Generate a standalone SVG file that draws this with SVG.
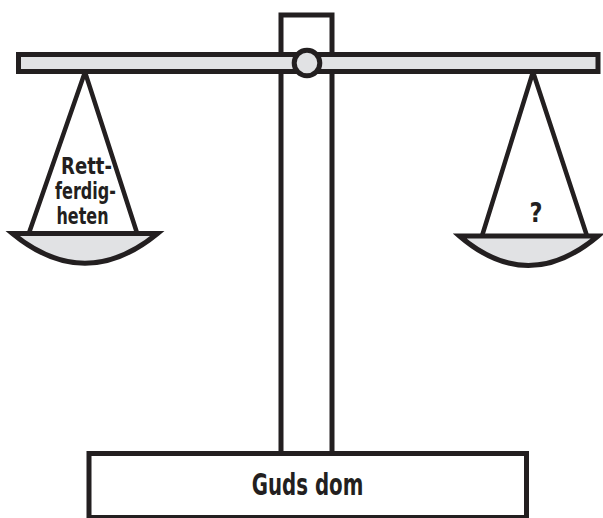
<svg xmlns="http://www.w3.org/2000/svg" width="603" height="518" viewBox="0 0 603 518">
<style>
.ln{fill:none;stroke:#231f20;stroke-width:4.5;stroke-linejoin:miter}
.gr{fill:#e1e2e4;stroke:#231f20;stroke-width:5}
.wh{fill:#ffffff;stroke:#231f20;stroke-width:5}
.t{font-family:"DejaVu Sans","Liberation Sans",Arial,sans-serif;font-weight:bold;fill:#231f20}
</style>
<rect width="603" height="518" fill="#ffffff"/>
<g id="pillar"><rect class="wh" x="281" y="15" width="51" height="440"/></g>
<g id="connectors">
<path class="ln" d="M29,233 L85,72 L137,233"/>
<path class="ln" d="M482,236 L533,72 L587,236"/>
</g>
<g id="beam"><rect class="gr" x="18.5" y="54.5" width="579.5" height="17"/></g>
<g id="pivot"><circle class="gr" cx="307" cy="63" r="12.8"/></g>
<g id="left-pan">
<path class="gr" d="M12.5,233.5 L157.5,233.5 Q85,293 12.5,233.5 Z"/>
<text class="t" font-size="23" x="61" y="174" textLength="51" lengthAdjust="spacingAndGlyphs">Rett-</text>
<text class="t" font-size="23" x="55" y="199" textLength="61" lengthAdjust="spacingAndGlyphs">ferdig-</text>
<text class="t" font-size="23" x="56.5" y="224" textLength="52" lengthAdjust="spacingAndGlyphs">heten</text>
</g>
<g id="right-pan">
<path class="gr" d="M459.5,236 L598,236 Q528,295 459.5,236 Z"/>
<text class="t" font-size="27" x="529.5" y="222" textLength="13" lengthAdjust="spacingAndGlyphs">?</text>
</g>
<g id="base">
<rect class="wh" x="89" y="453.5" width="437.5" height="64"/>
<text class="t" font-size="30" x="251.7" y="495" textLength="111.6" lengthAdjust="spacingAndGlyphs">Guds dom</text>
</g>
</svg>
